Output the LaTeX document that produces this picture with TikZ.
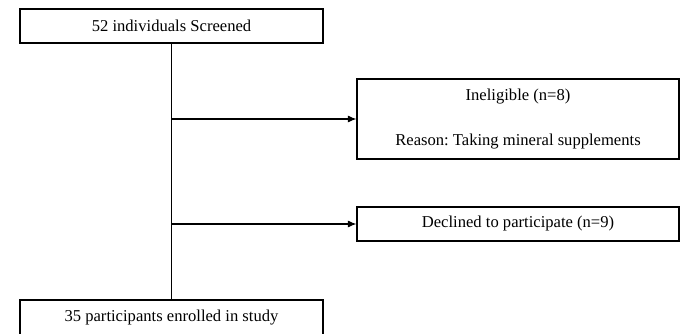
\documentclass[tikz,border=0pt]{standalone}
\usepackage{fontspec}
\setmainfont{Liberation Serif}
\usepackage{tikz}
\usetikzlibrary{arrows.meta}
\usetikzlibrary{positioning}
\frenchspacing

\begin{document}
\begin{tikzpicture}[
 x=0.025cm, y=-0.025cm,
 font=\fontsize{11.8}{14}\selectfont,
 block/.style = {draw, rectangle, line width=0.8pt, minimum height=0.85cm, minimum width=7.575cm, align=center},
 exblock/.style = {draw, rectangle, line width=0.8pt, minimum height=0.85cm, minimum width=8.05cm, align=center},
 flow/.style = {line width=0.8pt, -{Latex[length=6pt,width=5pt]}},
                        ]
    \useasboundingbox (0,0) rectangle (682,334);

    \node [block] at (171.5,26) (screen) {52 individuals Screened};
    \node [exblock, minimum height=2cm] at (518,119) (inelig) {Ineligible (n=8)\\[18.5pt]Reason: Taking mineral supplements};
    \node [exblock] at (518,224) (declined) {Declined to participate (n=9)};
    \node [block, minimum height=0.9cm] at (171.5,318) (enrol) {35 participants enrolled in study};

    \draw [line width=0.8pt] (screen) -- (enrol);
    \draw [flow] (screen.south |- inelig.west) -- (inelig.west);
    \draw [flow] (screen.south |- declined.west) -- (declined.west);

\end{tikzpicture}
\end{document}
